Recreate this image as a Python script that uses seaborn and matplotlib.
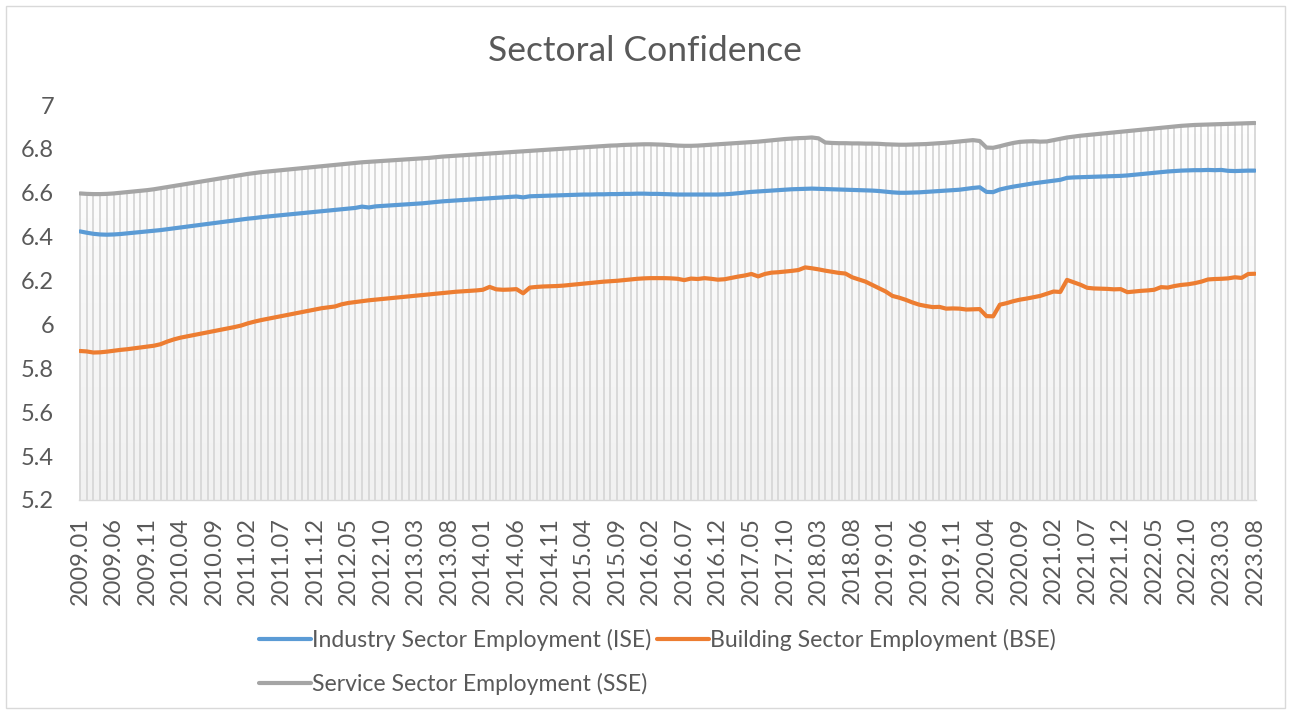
import numpy as np
import pandas as pd
import matplotlib
matplotlib.use("Agg")
import matplotlib.pyplot as plt
from matplotlib.lines import Line2D
from matplotlib.patches import Rectangle
from matplotlib.colors import LinearSegmentedColormap
import seaborn as sns

# ---------------- data (monthly, 2009.01 - 2023.08) ----------------
ise = [
    6.424, 6.418, 6.413, 6.410, 6.409, 6.410, 6.412, 6.415, 6.418, 6.421, 6.424, 6.427,  # 2009
    6.430, 6.434, 6.438, 6.442, 6.446, 6.450, 6.454, 6.458, 6.462, 6.466, 6.470, 6.474,  # 2010
    6.478, 6.482, 6.485, 6.489, 6.492, 6.495, 6.498, 6.501, 6.504, 6.507, 6.510, 6.513,  # 2011
    6.516, 6.519, 6.522, 6.525, 6.528, 6.531, 6.537, 6.533, 6.538, 6.540, 6.542, 6.544,  # 2012
    6.546, 6.548, 6.550, 6.552, 6.555, 6.558, 6.561, 6.563, 6.565, 6.567, 6.569, 6.571,  # 2013
    6.573, 6.575, 6.577, 6.579, 6.581, 6.583, 6.579, 6.584, 6.585, 6.586, 6.587, 6.588,  # 2014
    6.589, 6.590, 6.591, 6.592, 6.592, 6.593, 6.593, 6.594, 6.594, 6.595, 6.595, 6.596,  # 2015
    6.596, 6.595, 6.595, 6.594, 6.593, 6.592, 6.592, 6.592, 6.592, 6.592, 6.592, 6.592,  # 2016
    6.593, 6.595, 6.598, 6.601, 6.604, 6.606, 6.608, 6.610, 6.612, 6.614, 6.616, 6.617,  # 2017
    6.618, 6.619, 6.618, 6.617, 6.616, 6.615, 6.614, 6.613, 6.612, 6.611, 6.610, 6.608,  # 2018
    6.605, 6.602, 6.600, 6.600, 6.601, 6.602, 6.604, 6.606, 6.608, 6.610, 6.612, 6.614,  # 2019
    6.618, 6.622, 6.625, 6.604, 6.603, 6.615, 6.622, 6.628, 6.633, 6.638, 6.643, 6.647,  # 2020
    6.651, 6.655, 6.659, 6.668, 6.670, 6.671, 6.672, 6.673, 6.674, 6.675, 6.676, 6.677,  # 2021
    6.679, 6.682, 6.685, 6.688, 6.691, 6.694, 6.697, 6.699, 6.701, 6.702, 6.703, 6.703,  # 2022
    6.704, 6.703, 6.704, 6.700, 6.699, 6.700, 6.701, 6.701,                              # 2023
]

bse = [
    5.879, 5.877, 5.872, 5.873, 5.876, 5.880, 5.884, 5.887, 5.891, 5.895, 5.899, 5.903,  # 2009
    5.910, 5.922, 5.932, 5.940, 5.946, 5.952, 5.958, 5.964, 5.970, 5.976, 5.982, 5.988,  # 2010
    5.995, 6.005, 6.013, 6.020, 6.026, 6.032, 6.038, 6.044, 6.050, 6.056, 6.062, 6.068,  # 2011
    6.074, 6.078, 6.082, 6.092, 6.098, 6.102, 6.106, 6.110, 6.113, 6.116, 6.119, 6.122,  # 2012
    6.125, 6.128, 6.131, 6.134, 6.137, 6.140, 6.143, 6.146, 6.149, 6.151, 6.153, 6.155,  # 2013
    6.158, 6.171, 6.160, 6.158, 6.159, 6.161, 6.142, 6.168, 6.171, 6.173, 6.174, 6.175,  # 2014
    6.177, 6.180, 6.183, 6.186, 6.189, 6.192, 6.195, 6.197, 6.199, 6.202, 6.205, 6.208,  # 2015
    6.210, 6.211, 6.211, 6.211, 6.210, 6.208, 6.202, 6.209, 6.207, 6.211, 6.208, 6.204,  # 2016
    6.206, 6.212, 6.218, 6.223, 6.230, 6.219, 6.230, 6.236, 6.238, 6.241, 6.244, 6.248,  # 2017
    6.260, 6.256, 6.251, 6.245, 6.240, 6.235, 6.232, 6.215, 6.205, 6.195, 6.180, 6.165,  # 2018
    6.150, 6.130, 6.122, 6.112, 6.100, 6.090, 6.084, 6.079, 6.080, 6.072, 6.073, 6.072,  # 2019
    6.068, 6.069, 6.070, 6.038, 6.037, 6.090, 6.097, 6.106, 6.113, 6.118, 6.124, 6.130,  # 2020
    6.140, 6.150, 6.148, 6.203, 6.192, 6.181, 6.167, 6.164, 6.163, 6.162, 6.160, 6.161,  # 2021
    6.147, 6.150, 6.153, 6.155, 6.158, 6.170, 6.168, 6.175, 6.180, 6.183, 6.188, 6.195,  # 2022
    6.205, 6.207, 6.208, 6.210, 6.215, 6.212, 6.230, 6.231,                              # 2023
]

sse = [
    6.597, 6.595, 6.594, 6.594, 6.595, 6.597, 6.600, 6.603, 6.606, 6.609, 6.612, 6.616,  # 2009
    6.621, 6.626, 6.631, 6.636, 6.641, 6.646, 6.651, 6.656, 6.661, 6.666, 6.671, 6.676,  # 2010
    6.681, 6.686, 6.690, 6.694, 6.697, 6.700, 6.703, 6.706, 6.709, 6.712, 6.715, 6.718,  # 2011
    6.721, 6.724, 6.727, 6.730, 6.733, 6.736, 6.739, 6.741, 6.743, 6.745, 6.747, 6.749,  # 2012
    6.751, 6.753, 6.755, 6.757, 6.759, 6.762, 6.765, 6.767, 6.769, 6.771, 6.773, 6.775,  # 2013
    6.777, 6.779, 6.781, 6.783, 6.785, 6.787, 6.789, 6.791, 6.793, 6.795, 6.797, 6.799,  # 2014
    6.801, 6.803, 6.805, 6.807, 6.809, 6.811, 6.813, 6.815, 6.816, 6.818, 6.819, 6.820,  # 2015
    6.821, 6.821, 6.820, 6.819, 6.817, 6.815, 6.814, 6.814, 6.815, 6.817, 6.819, 6.821,  # 2016
    6.823, 6.825, 6.827, 6.829, 6.831, 6.833, 6.836, 6.839, 6.842, 6.845, 6.847, 6.849,  # 2017
    6.850, 6.852, 6.848, 6.829, 6.827, 6.826, 6.826, 6.825, 6.825, 6.824, 6.824, 6.823,  # 2018
    6.821, 6.820, 6.819, 6.819, 6.820, 6.821, 6.822, 6.824, 6.826, 6.828, 6.831, 6.834,  # 2019
    6.837, 6.840, 6.836, 6.806, 6.805, 6.812, 6.820, 6.827, 6.832, 6.834, 6.835, 6.833,  # 2020
    6.834, 6.840, 6.846, 6.852, 6.856, 6.860, 6.863, 6.866, 6.869, 6.872, 6.875, 6.878,  # 2021
    6.881, 6.884, 6.887, 6.890, 6.893, 6.896, 6.899, 6.902, 6.905, 6.907, 6.909, 6.910,  # 2022
    6.911, 6.912, 6.913, 6.914, 6.915, 6.916, 6.917, 6.918,                              # 2023
]

tick_labels = [
    "2009.01", "2009.06", "2009.11", "2010.04", "2010.09", "2011.02", "2011.07",
    "2011.12", "2012.05", "2012.10", "2013.03", "2013.08", "2014.01", "2014.06",
    "2014.11", "2015.04", "2015.09", "2016.02", "2016.07", "2016.12", "2017.05",
    "2017.10", "2018.03", "2018.08", "2019.01", "2019.06", "2019.11", "2020.04",
    "2020.09", "2021.02", "2021.07", "2021.12", "2022.05", "2022.10", "2023.03",
    "2023.08",
]
tick_step = 5
y_ticks = [5.2, 5.4, 5.6, 5.8, 6.0, 6.2, 6.4, 6.6, 6.8, 7.0]
y_tick_labels = ["5.2", "5.4", "5.6", "5.8", "6", "6.2", "6.4", "6.6", "6.8", "7"]

series_names = ["Industry Sector Employment (ISE)",
                "Building Sector Employment (BSE)",
                "Service Sector Employment (SSE)"]
colors = ["#5B9BD5", "#ED7D31", "#A5A5A5"]

# ---------------- build frame ----------------
n = len(ise)
idx = np.arange(n)
df = pd.DataFrame({
    "idx": np.tile(idx, 3),
    "value": ise + bse + sse,
    "series": np.repeat(series_names, n),
})

# ---------------- style ----------------
sns.set_theme(style="white")
plt.rcParams["font.family"] = ["Lato", "DejaVu Sans"]

W, H = 1290, 714
fig = plt.figure(figsize=(W / 100, H / 100), dpi=100)
fig.patch.set_facecolor("white")

L, R, T, B = 79, 1256, 105, 500
ax = fig.add_axes([L / W, (H - B) / H, (R - L) / W, (B - T) / H])
ymin, ymax = 5.2, 7.0
ax.set_xlim(-0.15, n - 1 + 0.15)
ax.set_ylim(ymin, ymax)

# gradient fill below the top series, clipped to the area under it
grad = np.linspace(0, 1, 256).reshape(-1, 1)
cmap = LinearSegmentedColormap.from_list("g", ["#f1f1f1", "#ffffff"])
im = ax.imshow(grad, extent=[0, n - 1, ymin, ymax], origin="lower",
               aspect="auto", cmap=cmap, zorder=0.5)
poly = ax.fill_between(idx, ymin, sse, color="none", lw=0)
im.set_clip_path(poly.get_paths()[0], transform=ax.transData)

# drop lines
ax.vlines(idx, ymin, sse, color="#d9d9d9", lw=1.4, zorder=1)

sns.lineplot(data=df, x="idx", y="value", hue="series",
             palette=dict(zip(series_names, colors)),
             linewidth=3.0, ax=ax, legend=False, zorder=3)
for ln in ax.lines:
    ln.set_solid_capstyle("round")
    ln.set_solid_joinstyle("round")

ax.set_xlabel("")
ax.set_ylabel("")
ax.set_xticks(idx[::tick_step])
ax.set_xticklabels(tick_labels, rotation=90)
ax.set_yticks(y_ticks)
ax.set_yticklabels(y_tick_labels)
ax.tick_params(axis="x", length=0, pad=12, labelsize=17, colors="#595959")
ax.tick_params(axis="y", length=0, pad=18, labelsize=17, colors="#595959")
for s in ["top", "right", "left"]:
    ax.spines[s].set_visible(False)
ax.spines["bottom"].set_color("#d9d9d9")
ax.spines["bottom"].set_linewidth(1.0)
ax.grid(False)

# title
fig.text(0.5, 1 - 51 / H, "Sectoral Confidence", ha="center", va="center",
         fontsize=25.5, color="#595959")

# legend (row-major order: ISE, BSE / SSE)
handles = [Line2D([], [], color=c, lw=3.0, solid_capstyle="round") for c in colors]
order = [0, 2, 1]
fig.legend([handles[i] for i in order], [series_names[i] for i in order],
           ncol=2, loc="upper left", bbox_to_anchor=(238 / W, 1 - 608 / H),
           frameon=False, fontsize=16.6, handlelength=2.25, handletextpad=0.05,
           columnspacing=0.26, labelspacing=0.95, labelcolor="#595959")

# outer chart border
fig.add_artist(Rectangle((6 / W, 6 / H), (1285 - 6) / W, (708 - 6) / H,
                         transform=fig.transFigure, fill=False,
                         edgecolor="#d9d9d9", lw=1.0))

fig.savefig("out.png", dpi=100)
